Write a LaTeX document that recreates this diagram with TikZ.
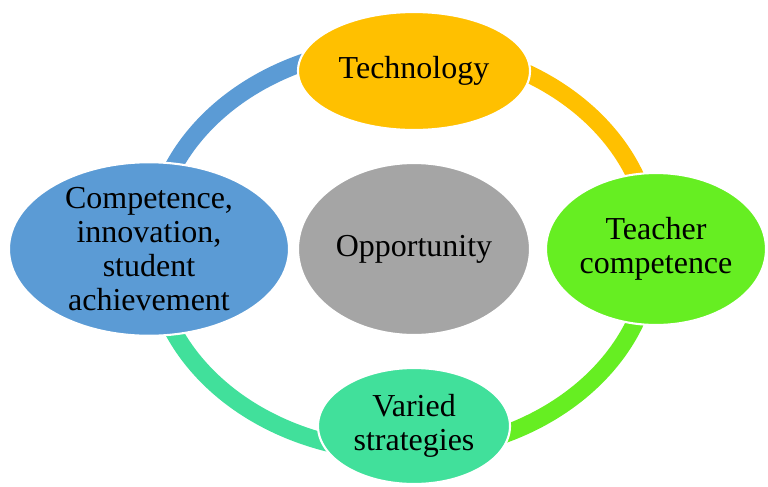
\documentclass[tikz,border=0pt]{standalone}
\usepackage{fontspec}
\setmainfont{Liberation Serif}
\usetikzlibrary{shapes.geometric}

\definecolor{techC}{HTML}{FFC000}
\definecolor{teachC}{HTML}{66EE22}
\definecolor{varC}{HTML}{41E09B}
\definecolor{compC}{HTML}{5B9BD5}
\definecolor{oppC}{HTML}{A5A5A5}

\begin{document}
\begin{tikzpicture}[
		e/.style = {ellipse, draw=white, line width=1.2pt, inner sep=0pt, align=center, font=\fontsize{18.2}{19.2}\selectfont},
		rim/.style = {line width=0.35cm}
		]
		\useasboundingbox (-8.28,-4.74) rectangle (7.08,4.98);
		
		% === === Ring === ===
		\coordinate	(mid)	at	(-0.24, 0);
		\draw[rim, compC]	([shift={(180:5cm and 4.06cm)}]mid)	arc[start angle=180, end angle=87, x radius=5cm, y radius=4.06cm];
		\draw[rim, techC]	([shift={(87:5cm and 4.06cm)}]mid)	arc[start angle=87, end angle=0, x radius=5cm, y radius=4.06cm];
		\draw[rim, teachC]	([shift={(0:5cm and 4.06cm)}]mid)	arc[start angle=0, end angle=-87, x radius=5cm, y radius=4.06cm];
		\draw[rim, varC]	([shift={(-87:5cm and 4.06cm)}]mid)	arc[start angle=-87, end angle=-180, x radius=5cm, y radius=4.06cm];
		
		% === === Nodes === ===
		\node[e, fill=oppC, minimum width=4.64cm, minimum height=3.44cm]	(opp)	at	(0, 0)		{Opportunity};
		\node[e, fill=techC, minimum width=4.64cm, minimum height=2.36cm]	(tech)	at	(0, 3.56)	{Technology};
		\node[e, fill=teachC, minimum width=4.4cm, minimum height=3.04cm]	(teach)	at	(4.84, 0)	{Teacher\\competence};
		\node[e, fill=varC, minimum width=3.84cm, minimum height=2.32cm]	(var)	at	(0, -3.54)	{Varied\\strategies};
		\node[e, fill=compC, minimum width=5.6cm, minimum height=2.78cm]	(comp)	at	(-5.3, 0)	{Competence,\\innovation,\\student\\achievement};
		
	\end{tikzpicture}
\end{document}
